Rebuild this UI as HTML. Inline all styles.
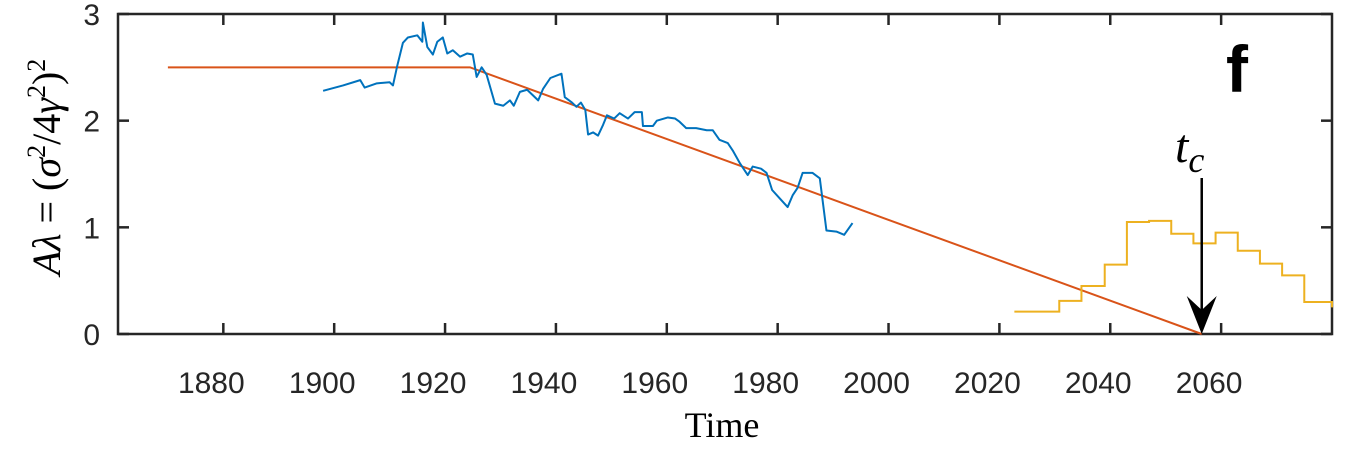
<!DOCTYPE html>
<html><head><meta charset="utf-8"><style>
html,body{margin:0;padding:0;background:#fff;}
svg{display:block;font-family:"Liberation Sans",sans-serif;}
</style></head><body>
<svg id="chart" width="1357" height="452" viewBox="0 0 1357 452">
<g id="axes"></g>
<g id="marks"></g>
<text x="722" y="437" text-anchor="middle" font-family="Liberation Serif,serif" font-size="36">Time</text>
<text transform="translate(60,167) rotate(-90)" text-anchor="middle" font-family="Liberation Serif,serif" font-size="40" xml:space="preserve"><tspan font-style="italic">Aλ</tspan> = (<tspan font-style="italic">σ</tspan><tspan font-size="26" dy="-15">2</tspan><tspan dy="15">/4</tspan><tspan font-style="italic">γ</tspan><tspan font-size="26" dy="-15">2</tspan><tspan dy="15">)</tspan><tspan font-size="26" dy="-15">2</tspan></text>
<text x="1226" y="92" font-size="66" font-weight="bold">f</text>
<text x="1175" y="162" font-family="Liberation Serif,serif" font-style="italic" font-size="48">t<tspan font-size="36" dy="10">c</tspan></text>
</svg>
<script>
const xTicks=[1880,1900,1920,1940,1960,1980,2000,2020,2040,2060];
const yTicks=[0,1,2,3];
const blueYears=[1898,1901.6,1904.7,1905.5,1907.7,1910,1910.6,1911.4,1912.4,1913.3,1915,1915.9,1916,1916.8,1917.8,1918.6,1919.6,1920.4,1921.4,1922.7,1924,1925,1925.7,1926.6,1927.5,1929,1930.5,1931.7,1932.4,1933.5,1934.8,1936.8,1937.7,1939,1941,1941.6,1942.9,1943.7,1944.5,1945.3,1945.8,1946.7,1947.6,1948.5,1949.2,1950.5,1951.5,1953,1954.2,1955.5,1955.7,1957.5,1958.2,1960.2,1961.5,1962.3,1963.5,1965.3,1967.2,1968.3,1969.5,1971,1971.9,1973.2,1974.6,1975.5,1977,1978,1979,1980.4,1981.8,1982.7,1983.6,1984.5,1986.3,1987.6,1988.8,1990.6,1992,1993.5];
const blueValues=[2.28,2.33,2.38,2.31,2.35,2.36,2.33,2.52,2.73,2.78,2.8,2.74,2.92,2.69,2.62,2.74,2.78,2.63,2.66,2.6,2.63,2.62,2.41,2.5,2.43,2.16,2.14,2.19,2.14,2.27,2.29,2.19,2.3,2.4,2.44,2.22,2.17,2.13,2.17,2.1,1.87,1.89,1.86,1.96,2.05,2.02,2.07,2.02,2.08,2.08,1.95,1.95,2.0,2.03,2.02,1.99,1.93,1.93,1.91,1.91,1.82,1.79,1.72,1.6,1.49,1.57,1.55,1.51,1.35,1.27,1.19,1.3,1.37,1.51,1.51,1.46,0.97,0.96,0.93,1.04];
const fitYears=[1870,1924.5,2056.5];
const fitValues=[2.5,2.5,0];
const stepEdges=[2022.7,2030.8,2034.8,2039,2043,2047,2051,2055,2059,2063,2067,2071,2075,2080];
const stepValues=[0.21,0.31,0.45,0.65,1.05,1.06,0.94,0.85,0.95,0.78,0.66,0.55,0.30,0.25];
const tcYear=2056.5;
const L=118,R=1332,T=14,B=334,X0=1861,X1=2080,Y0=0,Y1=3;
const sx=v=>L+(v-X0)/(X1-X0)*(R-L);
const sy=v=>B-(v-Y0)/(Y1-Y0)*(B-T);
const NS="http://www.w3.org/2000/svg";
function mk(tag,attrs,parent){const e=document.createElementNS(NS,tag);for(const k in attrs)e.setAttribute(k,attrs[k]);parent.appendChild(e);return e;}
const ax=document.getElementById('axes'),mg=document.getElementById('marks');
let frame=mk('rect',{x:L,y:T,width:R-L,height:B-T,fill:'none',stroke:'#262626','stroke-width':2.5},ax);


xTicks.forEach(t=>{const x=sx(t);
 let a=mk('line',{x1:x,x2:x,y1:B,y2:B-11,stroke:'#262626','stroke-width':2.5},ax);
 
 
 let b=mk('line',{x1:x,x2:x,y1:T,y2:T+11,stroke:'#262626','stroke-width':2.5},ax);
 
 
 let l=mk('text',{x:x-12,y:393,'text-anchor':'middle','font-size':30,fill:'#262626'},ax);l.textContent=t;
 
 
});
yTicks.forEach(t=>{const y=sy(t);
 let a=mk('line',{x1:L,x2:L+11,y1:y,y2:y,stroke:'#262626','stroke-width':2.5},ax);
 
 
 let b=mk('line',{x1:R,x2:R-11,y1:y,y2:y,stroke:'#262626','stroke-width':2.5},ax);
 
 
 let l=mk('text',{x:100,y:y+11,'text-anchor':'end','font-size':30,fill:'#262626'},ax);l.textContent=t;
 
 
});
let fp=fitYears.map((v,i)=>sx(v)+','+sy(fitValues[i])).join(' ');
let fit=mk('polyline',{points:fp,fill:'none',stroke:'#d95319','stroke-width':2},mg);


let bp=blueYears.map((v,i)=>sx(v)+','+sy(blueValues[i])).join(' ');
let blue=mk('polyline',{points:bp,fill:'none',stroke:'#0072bd','stroke-width':2,'stroke-linejoin':'round'},mg);


let sp=[];stepValues.forEach((v,i)=>{const x2=i+1<stepEdges.length?stepEdges[i+1]:X1;sp.push(sx(stepEdges[i])+','+sy(v));sp.push(sx(x2)+','+sy(v));});
let st=mk('polyline',{points:sp.join(' '),fill:'none',stroke:'#edb120','stroke-width':2},mg);


const ax2=sx(tcYear);
let ar=mk('line',{x1:ax2,x2:ax2,y1:178,y2:315,stroke:'#000','stroke-width':2.5},mg);


let ah=mk('polygon',{points:`${ax2-15},296 ${ax2},${B} ${ax2+15},296 ${ax2},310`,fill:'#000'},mg);


</script>
</body></html>
